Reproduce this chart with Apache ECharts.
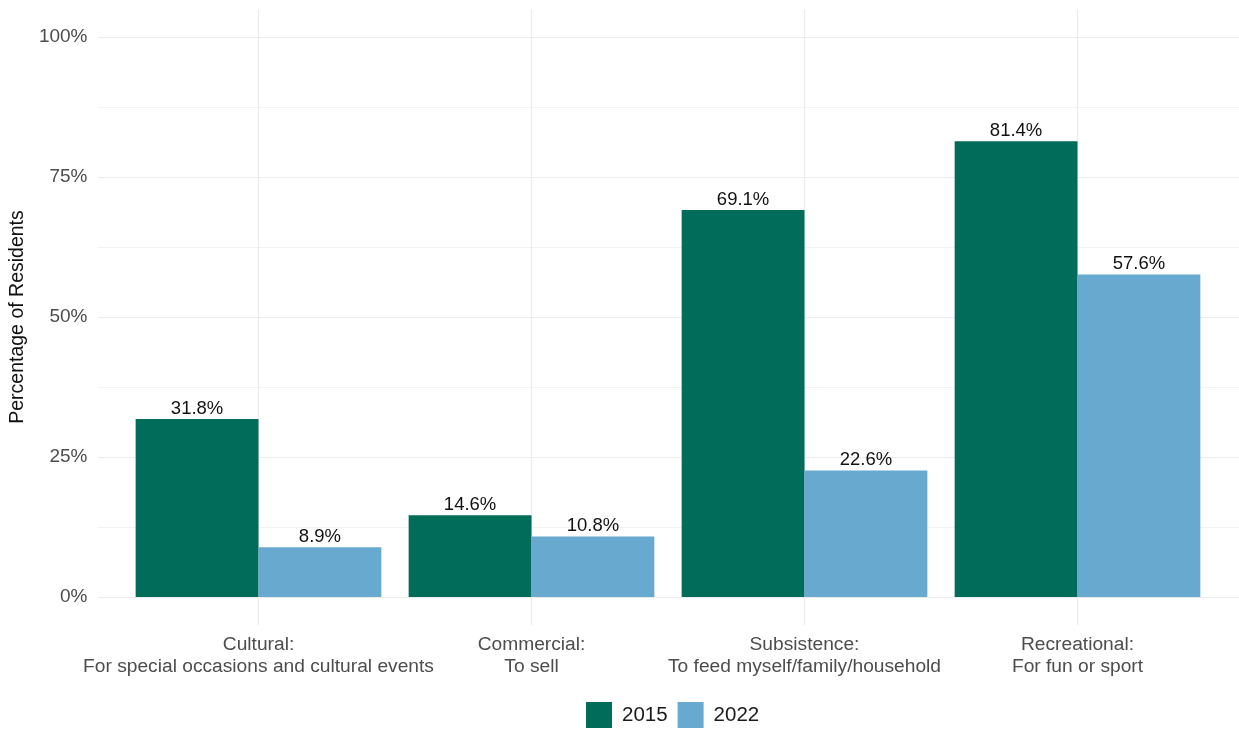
<!DOCTYPE html>
<html>
<head>
<meta charset="utf-8">
<script src="https://cdn.jsdelivr.net/npm/echarts@6/dist/echarts.min.js"></script>
<style>
  html, body { margin: 0; padding: 0; background: #ffffff; }
  #chart { width: 1239px; height: 733px; }
</style>
</head>
<body>
<div id="chart"></div>
<script>
// Harvesting purposes, share of residents by survey year
const categories = [
  'Cultural:\nFor special occasions and cultural events',
  'Commercial:\nTo sell',
  'Subsistence:\nTo feed myself/family/household',
  'Recreational:\nFor fun or sport'
];
const years = ['2015', '2022'];
const values2015 = [31.8, 14.6, 69.1, 81.4];
const values2022 = [8.9, 10.8, 22.6, 57.6];
const yTicks = [0, 25, 50, 75, 100];

const colors = { '2015': '#016c59', '2022': '#67a9cf' };
const FONT = 'Liberation Sans, Arial, sans-serif';

const chart = echarts.init(document.getElementById('chart'), null, { renderer: 'canvas' });

const valueLabel = {
  show: true,
  position: 'top',
  distance: 1,
  color: '#111111',
  fontFamily: FONT,
  fontSize: 18.5,
  formatter: p => p.value.toFixed(1) + '%'
};

chart.setOption({
  animation: false,
  backgroundColor: '#ffffff',
  legend: {
    data: years,
    bottom: 0,
    left: 581,
    itemWidth: 26,
    itemHeight: 26,
    itemGap: 10,
    icon: 'rect',
    textStyle: { fontFamily: FONT, fontSize: 20.5, color: '#1a1a1a', padding: [0, 0, 0, 5] }
  },
  grid: [
    // panel backdrop: horizontal grid lines and y labels
    { left: 94, right: -2, top: 37, bottom: 136, containLabel: false },
    // bars
    { left: 122, right: 25, top: 9, bottom: 108, containLabel: false }
  ],
  xAxis: [
    {
      gridIndex: 0, type: 'value', min: 0, max: 1,
      show: false
    },
    {
      gridIndex: 1, type: 'category', data: categories,
      axisLine: { show: false },
      axisTick: { show: false },
      splitLine: { show: false },
      axisLabel: {
        interval: 0,
        margin: 9,
        color: '#4d4d4d',
        fontFamily: FONT,
        fontSize: 19.2,
        lineHeight: 22
      }
    }
  ],
  yAxis: [
    {
      gridIndex: 0, type: 'value', min: 0, max: 100, interval: 25,
      axisLine: { show: false },
      axisTick: { show: false },
      axisLabel: {
        margin: 11,
        color: '#4d4d4d',
        fontFamily: FONT,
        fontSize: 19,
        customValues: yTicks,
        formatter: v => v + '%'
      },
      splitLine: { show: true, lineStyle: { color: '#ebebeb', width: 1.2 } },
      minorTick: { show: false, splitNumber: 2 },
      minorSplitLine: { show: true, lineStyle: { color: '#f2f2f2', width: 1 } },
      name: 'Percentage of Residents',
      nameLocation: 'middle',
      nameRotate: 90,
      nameGap: 62,
      nameTextStyle: { color: '#111111', fontFamily: FONT, fontSize: 19.5 }
    },
    {
      gridIndex: 1, type: 'value', min: -5, max: 105,
      show: false,
      splitLine: { show: false }
    }
  ],
  series: [
    {
      // vertical grid lines at each category
      type: 'line',
      xAxisIndex: 1, yAxisIndex: 1,
      data: [],
      silent: true,
      markLine: {
        silent: true,
        z: 1,
        symbol: ['none', 'none'],
        label: { show: false },
        lineStyle: { color: '#ebebeb', width: 1.2, type: 'solid' },
        data: categories.map(c => ({ xAxis: c }))
      }
    },
    {
      name: '2015', type: 'bar',
      xAxisIndex: 1, yAxisIndex: 1,
      data: values2015,
      z: 2,
      barGap: '0%', barCategoryGap: '10%',
      itemStyle: { color: colors['2015'] },
      label: valueLabel
    },
    {
      name: '2022', type: 'bar',
      xAxisIndex: 1, yAxisIndex: 1,
      data: values2022,
      z: 2,
      barGap: '0%', barCategoryGap: '10%',
      itemStyle: { color: colors['2022'] },
      label: valueLabel
    }
  ]
});
</script>
</body>
</html>
